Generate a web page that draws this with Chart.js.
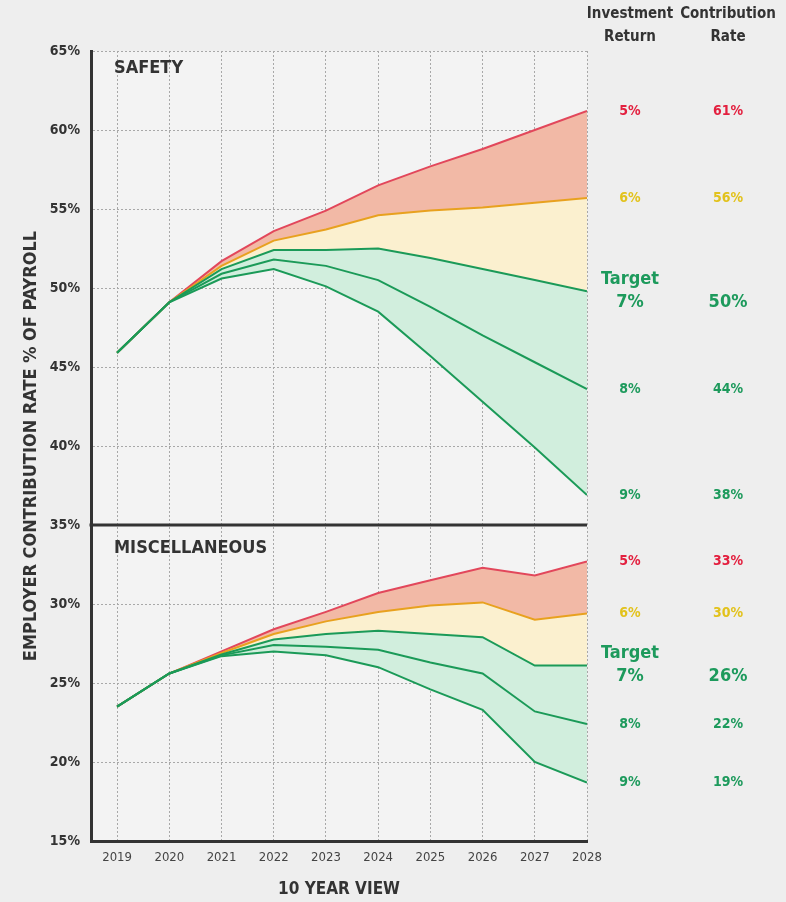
<!DOCTYPE html>
<html>
<head>
<meta charset="utf-8">
<script src="https://cdn.jsdelivr.net/npm/chart.js@4.4.1/dist/chart.umd.min.js"></script>
<style>
  html, body { margin: 0; padding: 0; background: #eeeeee; }
  #wrap { width: 786px; height: 902px; }
</style>
</head>
<body>
<div id="wrap"><canvas id="rateChart" width="786" height="902"></canvas></div>
<script>
// --- data ---
const years = [2019, 2020, 2021, 2022, 2023, 2024, 2025, 2026, 2027, 2028];

// Safety plan (% of payroll), by investment return
const safety5 = [45.9, 49.1, 51.7, 53.6, 54.9, 56.5, 57.7, 58.8, 60.0, 61.2];
const safety6 = [45.9, 49.1, 51.4, 53.0, 53.7, 54.6, 54.9, 55.1, 55.4, 55.7];
const safety7 = [45.9, 49.1, 51.2, 52.4, 52.4, 52.5, 51.9, 51.2, 50.5, 49.8];
const safety8 = [45.9, 49.1, 50.9, 51.8, 51.4, 50.5, 48.8, 47.0, 45.3, 43.6];
const safety9 = [45.9, 49.1, 50.6, 51.2, 50.1, 48.5, 45.7, 42.8, 39.9, 36.9];

// Miscellaneous plan
const misc5 = [23.5, 25.6, 27.0, 28.4, 29.5, 30.7, 31.5, 32.3, 31.8, 32.7];
const misc6 = [23.5, 25.6, 26.9, 28.1, 28.9, 29.5, 29.9, 30.1, 29.0, 29.4];
const misc7 = [23.5, 25.6, 26.8, 27.75, 28.1, 28.3, 28.1, 27.9, 26.1, 26.1];
const misc8 = [23.5, 25.6, 26.75, 27.4, 27.3, 27.1, 26.3, 25.6, 23.2, 22.4];
const misc9 = [23.5, 25.6, 26.7, 27.0, 26.75, 26.0, 24.6, 23.3, 20.0, 18.7];

const returnLabels = ['5%', '6%', '7%', '8%', '9%'];
const safetyRates = ['61%', '56%', '50%', '44%', '38%'];
const miscRates = ['33%', '30%', '26%', '22%', '19%'];

const safetyTicks = [35, 40, 45, 50, 55, 60, 65];
const miscTicks = [15, 20, 25, 30, 35];

// --- styles ---
const FONT = '"Liberation Sans Narrow", "DejaVu Sans Condensed", "Arial Narrow", sans-serif';
const RED = '#e2475b', ORANGE = '#e8a11f', GREEN = '#1b9a58';
const RED_FILL = '#f2b9a6', YEL_FILL = '#fbf0cf', GRN_FILL = '#d1eedd';
const RED_TXT = '#e3203f', YEL_TXT = '#e2c21c', GRN_TXT = '#1d9a5c';
const TXT = '#333333';

function lineSet(values, color, fill, bg, axis) {
    return {
        data: years.map((yr, i) => ({ x: yr, y: values[i] })),
        borderColor: color,
        backgroundColor: bg,
        borderWidth: 2,
        pointRadius: 0,
        tension: 0,
        fill: fill,
        yAxisID: axis
    };
}

// ordre 9% -> 5% : le vert passe au-dessus au début
const datasets = [
    lineSet(safety9, GREEN, false, GRN_FILL, 'ySafety'),
    lineSet(safety8, GREEN, '-1', GRN_FILL, 'ySafety'),
    lineSet(safety7, GREEN, '-1', GRN_FILL, 'ySafety'),
    lineSet(safety6, ORANGE, '-1', YEL_FILL, 'ySafety'),
    lineSet(safety5, RED, '-1', RED_FILL, 'ySafety'),
    lineSet(misc9, GREEN, false, GRN_FILL, 'yMisc'),
    lineSet(misc8, GREEN, '-1', GRN_FILL, 'yMisc'),
    lineSet(misc7, GREEN, '-1', GRN_FILL, 'yMisc'),
    lineSet(misc6, ORANGE, '-1', YEL_FILL, 'yMisc'),
    lineSet(misc5, RED, '-1', RED_FILL, 'yMisc')
];

const series = {
    safety: [safety5, safety6, safety7, safety8, safety9],
    misc: [misc5, misc6, misc7, misc8, misc9]
};
const labelColors = [RED_TXT, YEL_TXT, GRN_TXT, GRN_TXT, GRN_TXT];

function drawSideLabels(ctx, scale, list, rates) {
    const colRet = 630, colRate = 728;
    ctx.textAlign = 'center';
    ctx.textBaseline = 'middle';
    list.forEach((vals, i) => {
        const y = scale.getPixelForValue(vals[vals.length - 1]);
        ctx.fillStyle = labelColors[i];
        if (i === 2) {
            ctx.font = `bold 18px ${FONT}`;
            ctx.fillText('Target', colRet, y - 12);
            ctx.fillText(returnLabels[i], colRet, y + 11);
            ctx.fillText(rates[i], colRate, y + 11);
        } else {
            ctx.font = `bold 14px ${FONT}`;
            ctx.fillText(returnLabels[i], colRet, y);
            ctx.fillText(rates[i], colRate, y);
        }
    });
}

const decorPlugin = {
    id: 'decor',
    beforeDraw(chart) {
        const { ctx, chartArea: ca } = chart;
        ctx.save();
        ctx.fillStyle = '#f3f3f3';
        ctx.fillRect(ca.left, ca.top, ca.right - ca.left, ca.bottom - ca.top);
        ctx.restore();
    },
    afterDraw(chart) {
        const { ctx, chartArea: ca } = chart;
        const ys = chart.scales.ySafety, ym = chart.scales.yMisc;
        ctx.save();

        // séparation entre les deux panneaux
        ctx.strokeStyle = TXT;
        ctx.lineWidth = 3;
        ctx.beginPath();
        ctx.moveTo(ca.left - 1.5, ys.bottom);
        ctx.lineTo(ca.right, ys.bottom);
        ctx.stroke();

        ctx.fillStyle = TXT;
        ctx.textAlign = 'left';
        ctx.textBaseline = 'middle';
        ctx.font = `bold 18px ${FONT}`;
        ctx.fillText('SAFETY', ca.left + 23, ys.top + 17);
        ctx.fillText('MISCELLANEOUS', ca.left + 23, ym.top + 23);

        // titre axe Y
        ctx.save();
        ctx.translate(31, (ca.top + ca.bottom) / 2);
        ctx.rotate(-Math.PI / 2);
        ctx.textAlign = 'center';
        ctx.font = `bold 18px ${FONT}`;
        ctx.fillText('EMPLOYER CONTRIBUTION RATE % OF PAYROLL', 0, 0);
        ctx.restore();

        // titre axe X
        ctx.textAlign = 'center';
        ctx.font = `bold 17px ${FONT}`;
        ctx.fillText('10 YEAR VIEW', (ca.left + ca.right) / 2, 890);

        // en-têtes colonnes
        ctx.font = `bold 15px ${FONT}`;
        ctx.fillText('Investment', 630, 14);
        ctx.fillText('Return', 630, 37);
        ctx.fillText('Contribution', 728, 14);
        ctx.fillText('Rate', 728, 37);

        drawSideLabels(ctx, ys, series.safety, safetyRates);
        drawSideLabels(ctx, ym, series.misc, miscRates);
        ctx.restore();
    }
};

const gridStyle = { color: '#a8a8a8', drawTicks: false, lineWidth: 1 };
const borderStyle = { color: TXT, width: 3, dash: [2, 2] };
const tickFontBold = { family: FONT, size: 14, weight: 'bold' };

new Chart(document.getElementById('rateChart'), {
    type: 'line',
    data: { datasets: datasets },
    options: {
        responsive: false,
        animation: false,
        devicePixelRatio: 1,
        layout: { padding: { top: 51, right: 199, left: 0, bottom: 0 } },
        plugins: { legend: { display: false }, tooltip: { enabled: false } },
        scales: {
            x: {
                type: 'linear',
                min: 2018.5,
                max: 2028,
                afterBuildTicks: s => { s.ticks = years.map(v => ({ value: v })); },
                afterFit: s => { s.height = 61; },
                grid: gridStyle,
                border: borderStyle,
                ticks: {
                    padding: 9,
                    color: '#444',
                    autoSkip: false,
                    maxRotation: 0,
                    font: { family: FONT, size: 13 },
                    callback: v => String(v)
                }
            },
            ySafety: {
                type: 'linear',
                position: 'left',
                stack: 'panels',
                stackWeight: 3,
                weight: 1,
                min: 35,
                max: 65,
                afterBuildTicks: s => { s.ticks = safetyTicks.map(v => ({ value: v })); },
                afterFit: s => { s.width = 91; },
                grid: gridStyle,
                border: borderStyle,
                ticks: {
                    padding: 11,
                    color: TXT,
                    font: tickFontBold,
                    callback: v => (v === 35 ? '' : v + '%')
                }
            },
            yMisc: {
                type: 'linear',
                position: 'left',
                stack: 'panels',
                stackWeight: 2,
                weight: 0,
                min: 15,
                max: 35,
                afterBuildTicks: s => { s.ticks = miscTicks.map(v => ({ value: v })); },
                afterFit: s => { s.width = 91; },
                grid: gridStyle,
                border: borderStyle,
                ticks: {
                    padding: 11,
                    color: TXT,
                    font: tickFontBold,
                    callback: v => v + '%'
                }
            }
        }
    },
    plugins: [decorPlugin]
});
</script>
</body>
</html>
